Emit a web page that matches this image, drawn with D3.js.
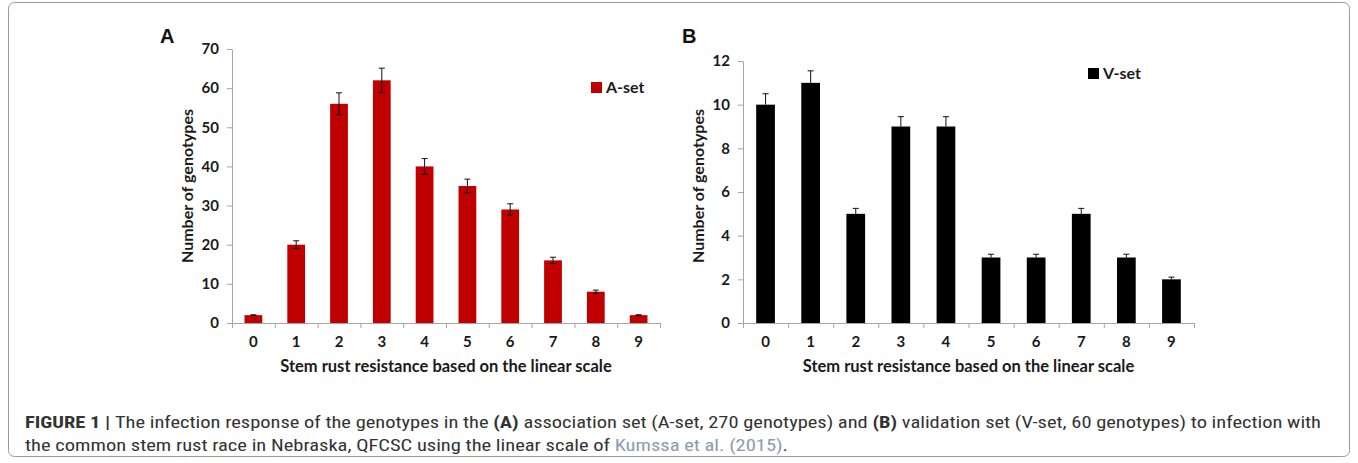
<!DOCTYPE html>
<html>
<head>
<meta charset="utf-8">
<script src="https://cdn.jsdelivr.net/npm/d3@7"></script>
<style>
  body { margin: 0; background: #fff; }
  svg { display: block; }
  .tick text { font-family: Lato, "Open Sans", sans-serif; font-weight: bold; font-size: 15px; fill: #1a1a1a; }
</style>
</head>
<body>
<script>
const categories = ["0", "1", "2", "3", "4", "5", "6", "7", "8", "9"];
const aValues = [2, 20, 56, 62, 40, 35, 29, 16, 8, 2];
const aErrors = [0.1, 1, 2.8, 3.1, 2, 1.75, 1.45, 0.8, 0.4, 0.1];
const vValues = [10, 11, 5, 9, 9, 3, 3, 5, 3, 2];
const vErrors = [0.5, 0.55, 0.25, 0.45, 0.45, 0.15, 0.15, 0.25, 0.15, 0.1];
const aTicks = [0, 10, 20, 30, 40, 50, 60, 70];
const vTicks = [0, 2, 4, 6, 8, 10, 12];

const width = 1358, height = 463;
const axisColor = "#a6a6a6";

const svg = d3.select("body").append("svg")
  .attr("width", width)
  .attr("height", height);

// figure frame
svg.append("rect")
  .attr("x", 8.5).attr("y", 2.5)
  .attr("width", 1341).attr("height", 454)
  .attr("rx", 6)
  .attr("fill", "none")
  .attr("stroke", "#9a9a9a");

function drawPanel(opt) {
  const x = d3.scaleBand()
    .domain(categories)
    .range([opt.left, opt.right])
    .paddingInner(0.585)
    .paddingOuter(0.2925);

  const y = d3.scaleLinear()
    .domain([0, opt.max])
    .range([323, opt.top]);

  const g = svg.append("g");

  // y axis
  const yAxis = g.append("g")
    .attr("transform", `translate(${opt.left},0)`)
    .call(d3.axisLeft(y).tickValues(opt.ticks).tickSize(5).tickSizeOuter(0).tickPadding(8));
  yAxis.selectAll("path, line").attr("stroke", axisColor);

  // x axis: boundary ticks without labels
  const xb = d3.scaleLinear().domain([0, categories.length]).range([opt.left, opt.right]);
  const xAxis = g.append("g")
    .attr("transform", "translate(0,323)")
    .call(d3.axisBottom(xb).ticks(categories.length).tickSize(5).tickSizeOuter(0).tickFormat(""));
  xAxis.selectAll("path, line").attr("stroke", axisColor);

  // category labels
  const xl = g.append("g")
    .attr("transform", "translate(0,323)")
    .call(d3.axisBottom(x).tickSize(0).tickPadding(13));
  xl.select(".domain").remove();

  // bars
  g.selectAll("rect.bar")
    .data(opt.values)
    .join("rect")
    .attr("class", "bar")
    .attr("x", (d, i) => x(categories[i]))
    .attr("width", x.bandwidth())
    .attr("y", d => y(d))
    .attr("height", d => y(0) - y(d))
    .attr("fill", opt.color);

  // error bars
  const eb = g.selectAll("g.err")
    .data(opt.values)
    .join("g")
    .attr("class", "err")
    .attr("stroke", "#111")
    .attr("stroke-width", 1);
  const cx = (i) => x(categories[i]) + x.bandwidth() / 2;
  const lo = (d, i) => opt.twoSided ? d - opt.errors[i] : d;
  eb.append("line")
    .attr("x1", (d, i) => cx(i)).attr("x2", (d, i) => cx(i))
    .attr("y1", (d, i) => y(lo(d, i))).attr("y2", (d, i) => y(d + opt.errors[i]));
  eb.append("line")
    .attr("x1", (d, i) => cx(i) - 3).attr("x2", (d, i) => cx(i) + 3)
    .attr("y1", (d, i) => y(d + opt.errors[i])).attr("y2", (d, i) => y(d + opt.errors[i]));
  if (opt.twoSided) {
    eb.append("line")
      .attr("x1", (d, i) => cx(i) - 3).attr("x2", (d, i) => cx(i) + 3)
      .attr("y1", (d, i) => y(lo(d, i))).attr("y2", (d, i) => y(lo(d, i)));
  }

  // axis titles
  g.append("text")
    .attr("x", (opt.left + opt.right) / 2)
    .attr("y", 372)
    .attr("text-anchor", "middle")
    .style("font-family", "Lato, 'Open Sans', sans-serif")
    .style("font-weight", "bold")
    .style("font-size", "16.5px")
    .style("fill", "#1a1a1a")
    .text("Stem rust resistance based on the linear scale");

  g.append("text")
    .attr("transform", `translate(${opt.left - 39},186) rotate(-90)`)
    .attr("text-anchor", "middle")
    .style("font-family", "Lato, 'Open Sans', sans-serif")
    .style("font-weight", "bold")
    .style("font-size", "16px")
    .style("fill", "#1a1a1a")
    .text("Number of genotypes");

  // panel letter
  g.append("text")
    .attr("x", opt.letterX)
    .attr("y", 43)
    .style("font-family", "'Liberation Sans', Arial, sans-serif")
    .style("font-weight", "bold")
    .style("font-size", "20px")
    .style("fill", "#111")
    .text(opt.letter);

  // legend
  g.append("rect")
    .attr("x", opt.legendX).attr("y", opt.legendY - 11)
    .attr("width", 11).attr("height", 11)
    .attr("fill", opt.color);
  g.append("text")
    .attr("x", opt.legendX + 15)
    .attr("y", opt.legendY)
    .style("font-family", "Lato, 'Open Sans', sans-serif")
    .style("font-weight", "bold")
    .style("font-size", "16px")
    .style("fill", "#1a1a1a")
    .text(opt.legend);
}

drawPanel({
  left: 232, right: 660, top: 49, max: 70, ticks: aTicks,
  values: aValues, errors: aErrors, color: "#c00000", twoSided: true,
  letter: "A", letterX: 160, legend: "A-set", legendX: 591, legendY: 93
});

drawPanel({
  left: 743, right: 1194, top: 61, max: 12, ticks: vTicks,
  values: vValues, errors: vErrors, color: "#000000", twoSided: false,
  letter: "B", letterX: 682, legend: "V-set", legendX: 1088, legendY: 79
});

// caption
const capFont = "'Liberation Sans Narrow', 'Roboto Condensed', Roboto, 'Liberation Sans', sans-serif";
const cap1 = svg.append("text")
  .attr("x", 25).attr("y", 428)
  .attr("textLength", 1296)
  .attr("lengthAdjust", "spacingAndGlyphs")
  .style("font-family", capFont)
  .style("font-size", "16px")
  .style("fill", "#333");
cap1.append("tspan").style("font-weight", "bold").text("FIGURE 1 | ");
cap1.append("tspan").text("The infection response of the genotypes in the ");
cap1.append("tspan").style("font-weight", "bold").text("(A)");
cap1.append("tspan").text(" association set (A-set, 270 genotypes) and ");
cap1.append("tspan").style("font-weight", "bold").text("(B)");
cap1.append("tspan").text(" validation set (V-set, 60 genotypes) to infection with");

const cap2 = svg.append("text")
  .attr("x", 25).attr("y", 451)
  .attr("textLength", 763)
  .attr("lengthAdjust", "spacingAndGlyphs")
  .style("font-family", capFont)
  .style("font-size", "16px")
  .style("fill", "#333");
cap2.append("tspan").text("the common stem rust race in Nebraska, QFCSC using the linear scale of ");
cap2.append("tspan").style("fill", "#8a9bb0").text("Kumssa et al. (2015)");
cap2.append("tspan").text(".");
</script>
</body>
</html>
